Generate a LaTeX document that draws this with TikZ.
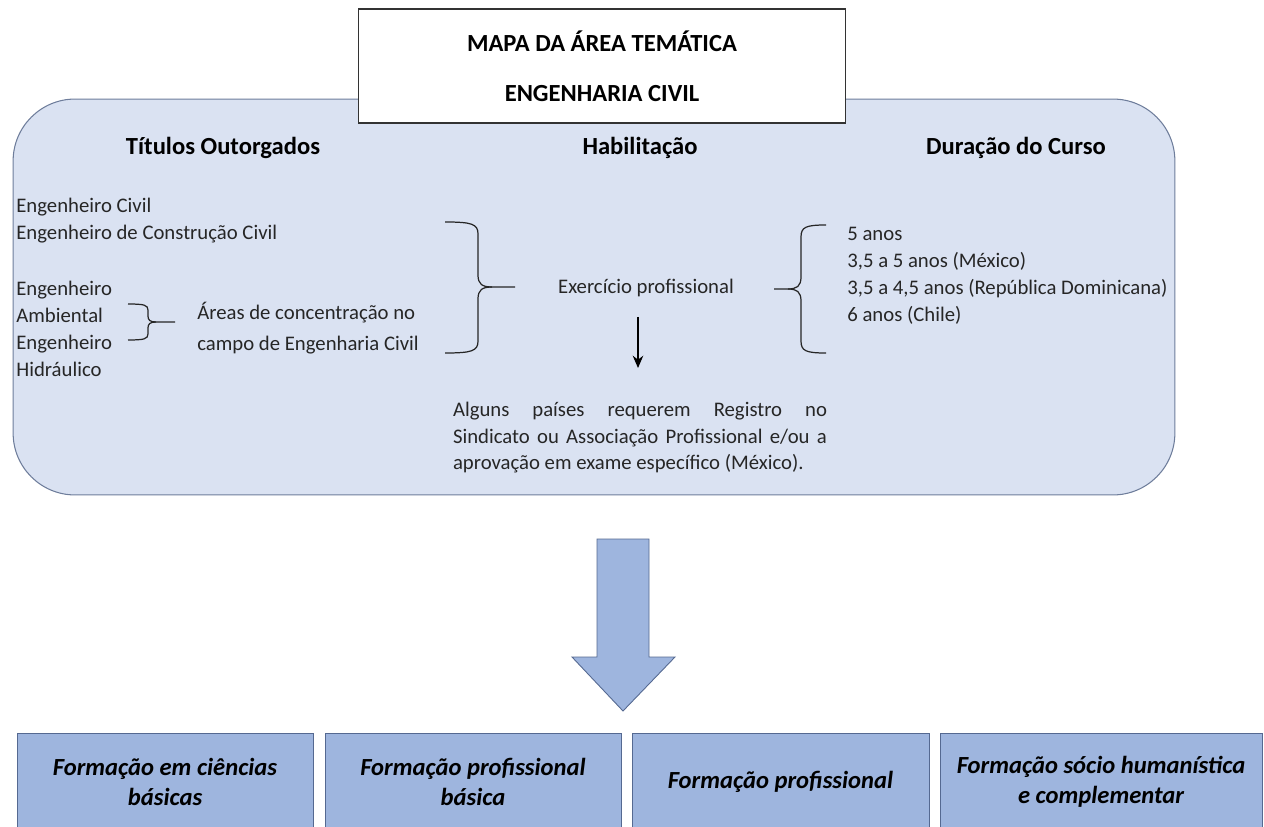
\documentclass[tikz,border=0pt]{standalone}
\usepackage{fontspec}
\setmainfont{Carlito}
\usetikzlibrary{arrows.meta}
\definecolor{painelfill}{RGB}{218,226,242}
\definecolor{painelline}{RGB}{110,125,155}
\definecolor{blocofill}{RGB}{158,181,222}
\definecolor{blocoline}{RGB}{85,105,145}
\definecolor{texto}{RGB}{38,38,38}
\tikzset{
	txt/.style={inner sep=0pt, text=texto, align=left, font=\fontsize{11.8}{15.4}\selectfont},
	cab/.style={inner sep=0pt, font=\fontsize{14}{17}\selectfont\bfseries},
	titulo/.style={draw=black!80, fill=white, line width=0.6pt, align=center, minimum width=9.76cm, minimum height=2.28cm, font=\fontsize{14}{28.4}\selectfont\bfseries},
	painel/.style={draw=painelline, fill=painelfill, rounded corners=1.24cm, line width=0.6pt, minimum width=23.24cm, minimum height=7.92cm},
	bloco/.style={draw=blocoline, fill=blocofill, line width=0.5pt, align=center, minimum height=1.96cm, font=\fontsize{14}{17}\selectfont\bfseries\itshape},
	chave/.style={draw=texto, line width=0.7pt}
}
\begin{document}
\begin{tikzpicture}[x=0.02cm, y=-0.02cm]
	\useasboundingbox (0,0) rectangle (1264,827);
	\clip (0,0) rectangle (1264,827);

	% painel e titulo
	\node[painel] (painel) at (594,297) {};
	\node[titulo] (mapa) at (602,66) {MAPA DA ÁREA TEMÁTICA\\ENGENHARIA CIVIL};

	\node[cab] (titulos) at (223,148) {Títulos Outorgados};
	\node[cab] (habil)   at (640,148) {Habilitação};
	\node[cab] (duracao) at (1016,148) {Duração do Curso};

	% titulos
	\node[txt, anchor=west] (civil) at (16,221) {Engenheiro Civil\\Engenheiro de Construção Civil};
	\node[txt, anchor=west] (amb)   at (16,329) {Engenheiro\\Ambiental\\Engenheiro\\Hidráulico};
	\node[txt, anchor=west, font=\fontsize{11.8}{17.6}\selectfont] (areas) at (197,328) {Áreas de concentração no\\campo de Engenharia Civil};

	\draw[chave] (128,304) .. controls (144,304) and (148,305) .. (148,310) -- (148,316) .. controls (148,320) and (150,322) .. (156,322) -- (175,322);
	\draw[chave] (156,322) .. controls (150,322) and (148,324) .. (148,328) -- (148,334) .. controls (148,339) and (144,340) .. (128,340);

	% habilitacao
	\draw[chave] (445,222) .. controls (472,222) and (478,224) .. (478,234) -- (478,275) .. controls (478,284) and (482,287) .. (492,287) -- (515,287);
	\draw[chave] (492,287) .. controls (482,287) and (478,290) .. (478,299) -- (478,341) .. controls (478,351) and (472,353) .. (445,353);

	\node[txt] (exerc) at (646,288) {Exercício profissional};
	\node[txt, text width=7.48cm, align=justify, font=\fontsize{11.8}{15.1}\selectfont] (req) at (640,438)
		{Alguns países requerem Registro no\linebreak Sindicato ou Associação Profissional e/ou a\linebreak aprovação em exame específico (México).};
	\coordinate (s1) at (638,317);
	\coordinate (s2) at (638,368);
	\draw[-{Stealth[length=7pt,width=6pt]}, draw=black, line width=0.75pt] (s1) -- (s2);

	% duracao
	\draw[chave] (826,225) .. controls (806,225) and (801,227) .. (801,237) -- (801,277) .. controls (801,286) and (797,289) .. (788,289) -- (774,289);
	\draw[chave] (788,289) .. controls (797,289) and (801,292) .. (801,301) -- (801,341) .. controls (801,351) and (806,353) .. (826,353);

	\node[txt, anchor=west] (anos) at (847,276) {5 anos\\3,5 a 5 anos (México)\\3,5 a 4,5 anos (República Dominicana)\\6 anos (Chile)};

	% seta grande
	\draw[draw=blocoline, fill=blocofill, line width=0.5pt]
		(597,539) -- (649,539) -- (649,657) -- (675,657) -- (623,711) -- (572,657) -- (597,657) -- cycle;

	% formacao
	\node[bloco, minimum width=5.92cm] (f1) at (165,782)  {Formação em ciências\\básicas};
	\node[bloco, minimum width=5.92cm] (f2) at (473,782)  {Formação profissional\\básica};
	\node[bloco, minimum width=5.94cm] (f3) at (780.5,782) {Formação profissional};
	\node[bloco, minimum width=6.44cm] (f4) at (1101,782) {Formação sócio humanística\\e complementar};
\end{tikzpicture}
\end{document}
